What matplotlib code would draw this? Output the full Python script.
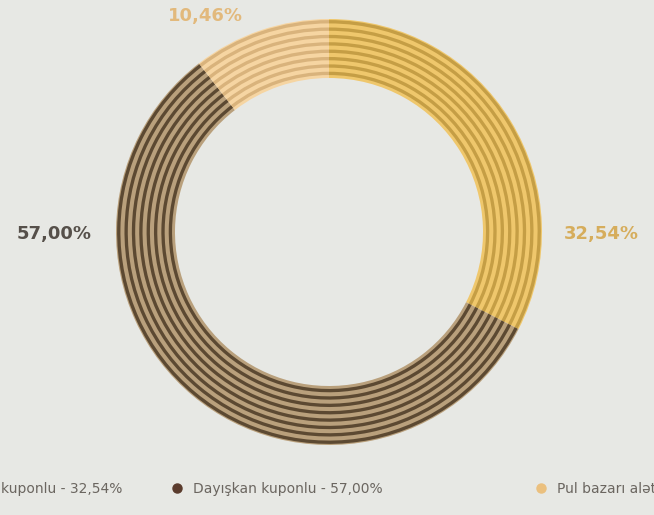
import matplotlib.pyplot as plt
import numpy as np

# Portfolio split by coupon type
labels = ["Sabit kuponlu", "Dayışkan kuponlu", "Pul bazarı alətləri"]
shares = [32.54, 57.00, 10.46]
value_text = ["32,54%", "57,00%", "10,46%"]

# stripe colours per segment: (dark line, light gap)
dark_cols = ["#c59e45", "#5c4932", "#d9b37c"]
light_cols = ["#efc76c", "#b9a07c", "#f6d5a2"]
label_cols = ["#d6ad5c", "#56504a", "#e2b97c"]
dot_cols = ["#c9a04c", "#5a3b2c", "#ebc07e"]

BG = "#e7e8e4"
W, H = 654, 515
cx, cy = 329, H - 232
r_out, r_in = 213, 154
n_lines = 8

fig = plt.figure(figsize=(W / 100, H / 100), dpi=100, facecolor=BG)
ax = fig.add_axes([0, 0, 1, 1])

# concentric bands: light base ring, then thin dark rings on top
period = (r_out - r_in) / n_lines
dark_w = period * 0.45
ax.pie(shares, colors=light_cols, startangle=90, counterclock=False,
       radius=r_out, center=(cx, cy), frame=True,
       wedgeprops=dict(width=r_out - r_in, linewidth=0))
for i in range(n_lines):
    rad = r_out - i * period - period * 0.15
    ax.pie(shares, colors=dark_cols, startangle=90, counterclock=False,
           radius=rad, center=(cx, cy), frame=True,
           wedgeprops=dict(width=dark_w, linewidth=0))

ax.set_xlim(0, W)
ax.set_ylim(0, H)
ax.set_aspect("equal")
ax.axis("off")

font = "DejaVu Sans"
ax.text(601, H - 234, value_text[0], color=label_cols[0], fontsize=13,
        fontweight="bold", family=font, ha="center", va="center")
ax.text(54, H - 234, value_text[1], color=label_cols[1], fontsize=13,
        fontweight="bold", family=font, ha="center", va="center")
ax.text(205, H - 16, value_text[2], color=label_cols[2], fontsize=13,
        fontweight="bold", family=font, ha="center", va="center")

# legend row, wider than the figure so the outer items are clipped
leg_y = H - 489
leg_x = [-55, 177, 541]
for x, lab, val, col in zip(leg_x, labels, value_text, dot_cols):
    ax.plot(x, leg_y + 1, "o", color=col, markersize=6.5, clip_on=False)
    ax.text(x + 16, leg_y, f"{lab} - {val}", color="#6b6660", fontsize=10,
            family=font, ha="left", va="center")

fig.savefig("out.png", dpi=100, facecolor=BG)
